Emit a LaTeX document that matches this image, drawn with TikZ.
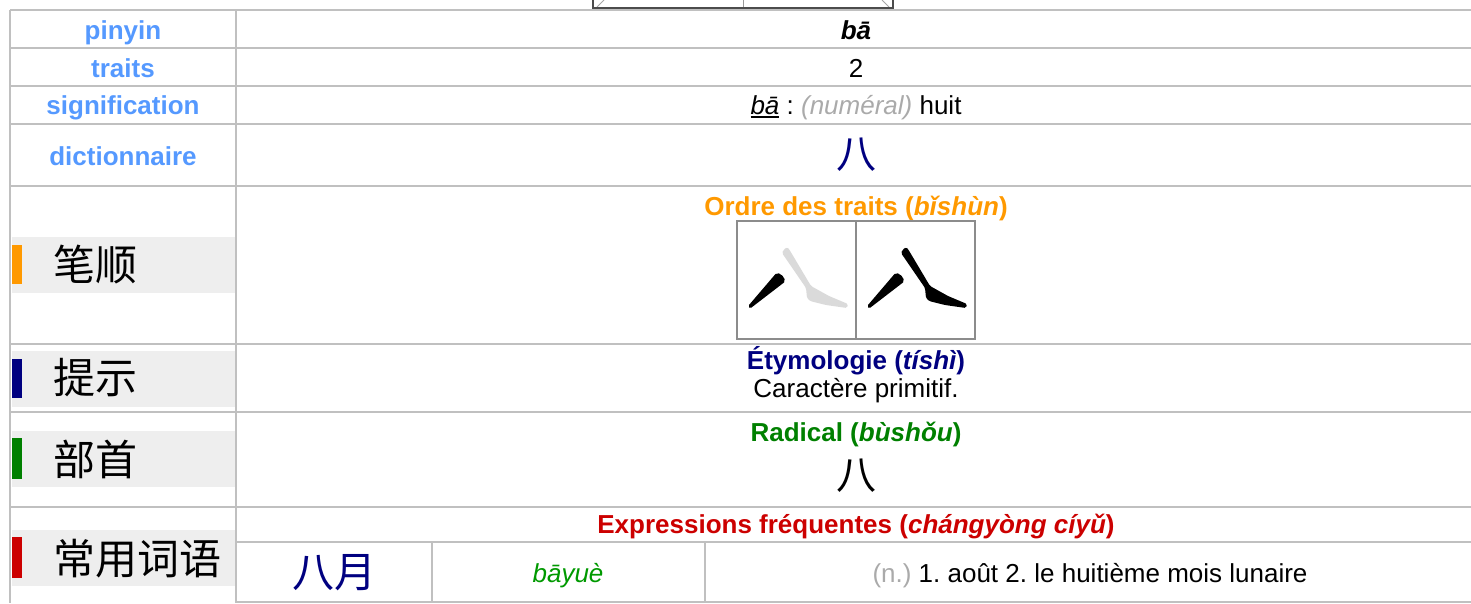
\documentclass[tikz,border=0pt]{standalone}
\usepackage{fontspec}
\setmainfont{Liberation Sans}
\newfontfamily\cjk{Noto Sans CJK SC}
\definecolor{gridc}{HTML}{C0C0C0}
\definecolor{lblblue}{HTML}{5599FF}
\definecolor{lblbg}{HTML}{EEEEEE}
\definecolor{orng}{HTML}{FF9900}
\definecolor{navyc}{HTML}{000080}
\definecolor{greenc}{HTML}{008000}
\definecolor{greenp}{HTML}{009900}
\definecolor{redc}{HTML}{CC0000}
\definecolor{grayt}{HTML}{AAAAAA}
\definecolor{strokeg}{HTML}{DADADA}
\newcommand\myul[1]{\vtop{\hbox{#1}\kern1.5pt\hrule height 2pt}}
\frenchspacing
\begin{document}
\begin{tikzpicture}[x=1pt,y=-1pt,
  gridl/.style={draw=gridc,line width=2pt},
  lbl/.style={anchor=base,inner sep=0pt,font=\fontsize{26}{30}\selectfont\bfseries,text=lblblue},
  txt/.style={anchor=base,inner sep=0pt,font=\fontsize{26}{30}\selectfont\frenchspacing},
  head/.style={anchor=base,inner sep=0pt,font=\fontsize{26}{30}\selectfont\bfseries},
  cjkl/.style={anchor=west,inner sep=0pt,font=\fontsize{42}{48}\selectfont\cjk},
  cjkc/.style={anchor=center,inner sep=0pt,font=\fontsize{40}{46}\selectfont\cjk},
  boxs/.style={draw=black!45,line width=1.5pt}]
\useasboundingbox (0,0) rectangle (1471,603);
% top fragment of an image
\draw[draw=black!35,line width=1pt] (597,7) -- (604,0) (882,0) -- (889,7);
\draw[draw=black!40,line width=1pt] (743,0) -- (743,8);
\draw[draw=black!70,line width=2pt] (593,0) -- (593,8) -- (893,8) -- (893,0);
% label backgrounds and bars
\fill[lblbg] (12,237) rectangle (235,293);
\fill[lblbg] (12,351) rectangle (235,407);
\fill[lblbg] (12,431) rectangle (235,487);
\fill[lblbg] (12,530) rectangle (235,586);
\fill[orng] (12,245) rectangle (22,284);
\fill[navyc] (12,359) rectangle (22,398);
\fill[greenc] (12,438) rectangle (22,479);
\fill[redc] (12,537) rectangle (22,578);
% grid
\foreach \yy in {10,48,86,123.5,185.5,344,412,507}
  \draw[gridl] (10,\yy) -- (1471,\yy);
\foreach \yy in {542,601.5}
  \draw[gridl] (236,\yy) -- (1471,\yy);
\draw[gridl] (10,10) -- (10,603);
\draw[gridl] (236,10) -- (236,603);
\draw[gridl] (432,542) -- (432,601.5);
\draw[gridl] (705,542) -- (705,601.5);
% left labels
\node[lbl] (lpinyin) at (123,39) {pinyin};
\node[lbl] (ltraits) at (123,77) {traits};
\node[lbl] (lsig) at (123,114) {signification};
\node[lbl] (ldict) at (123,165) {dictionnaire};
\node[cjkl] (lbishun) at (53,265) {笔顺};
\node[cjkl] (ltishi) at (53,378) {提示};
\node[cjkl] (lbushou) at (53,459) {部首};
\node[cjkl] (lcyc) at (53,559) {常用词语};
% right column
\node[head] (vpinyin) at (856,39) {\itshape bā};
\node[txt] (vtraits) at (856,77) {2};
\node[txt] (vsig) at (856,114) {\myul{\itshape bā} : {\color{grayt}\itshape (numéral)} huit};
\node[cjkc,text=navyc] (vdict) at (856,155) {八};
\node[head,text=orng] (hbishun) at (856,215) {Ordre des traits ({\itshape bǐshùn})};
% stroke order boxes
\node[boxs,minimum width=119pt,minimum height=118pt,inner sep=0pt] (box1) at (796.5,280) {};
\node[boxs,minimum width=119pt,minimum height=118pt,inner sep=0pt] (box2) at (915.5,280) {};
\foreach \sx/\nacol in {0/strokeg,119/black}{
  \begin{scope}[xshift=\sx pt]
    \fill[black] (749,305) -- (775.5,274) .. controls (779,270.5) and (787.5,279) .. (784,282.5) -- (751.5,307.5) .. controls (750,309) and (747.5,307) .. (749,305) -- cycle;
    \fill[\nacol,rounded corners=1.5pt] (783.5,250) -- (787,247) -- (789,249) -- (811,286) -- (829,296) -- (848,304) -- (847,308) -- (826,305) -- (810,301) -- (807,298) -- (806,288) -- (782,253) -- cycle;
  \end{scope}
}
\node[head,text=navyc] (hety) at (856,369) {Étymologie ({\itshape tíshì})};
\node[txt] (vety) at (856,397) {Caractère primitif.};
\node[head,text=greenc] (hrad) at (856,441) {Radical ({\itshape bùshǒu})};
\node[cjkc] (vrad) at (856,476) {八};
\node[head,text=redc] (hexp) at (856,533) {Expressions fréquentes ({\itshape chángyòng cíyǔ})};
\node[cjkc,font=\fontsize{42}{48}\selectfont\cjk,text=navyc] (eword) at (334,573) {八月};
\node[txt,text=greenp] (epy) at (568,582) {\itshape bāyuè};
\node[txt] (edef) at (1090,582) {{\color{grayt}(n.)} 1. août 2. le huitième mois lunaire};
\end{tikzpicture}
\end{document}
